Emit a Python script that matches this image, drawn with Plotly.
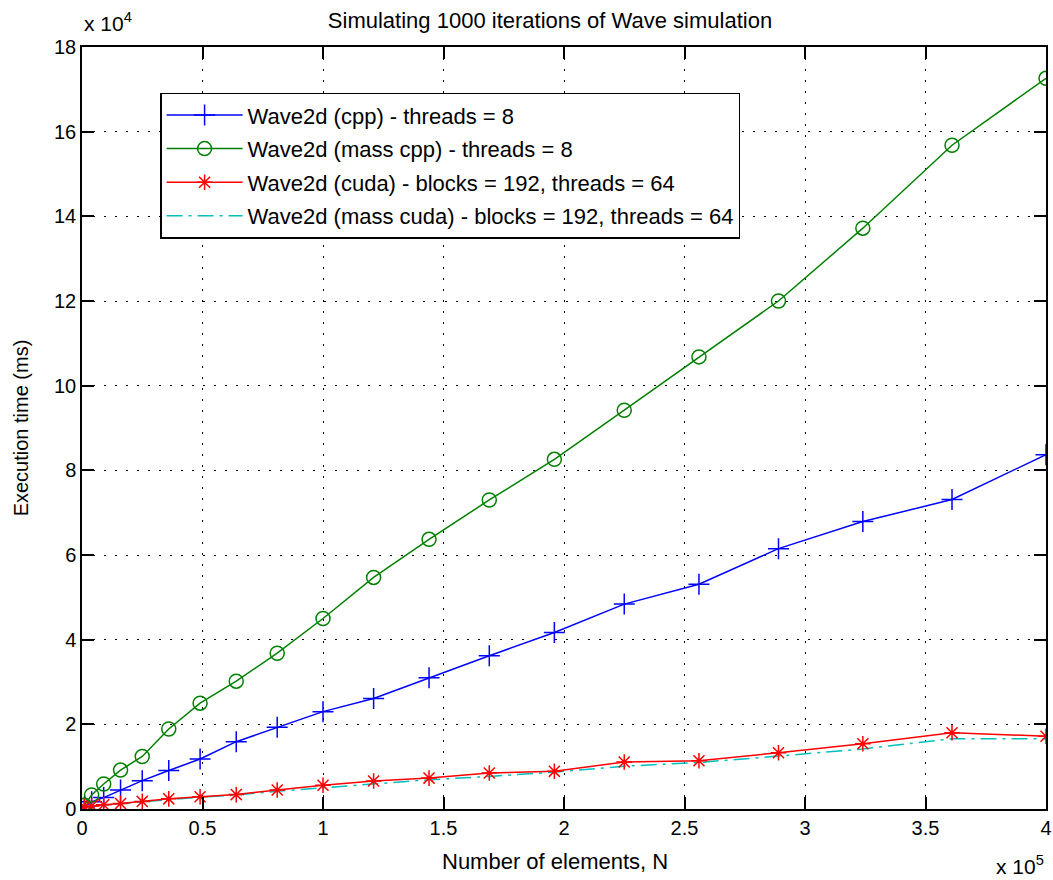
import plotly.graph_objects as go

# Number of elements (x) and execution times (ms)
n_elements = [1000, 4000, 9000, 16000, 25000, 36000, 49000, 64000, 81000, 100000,
              121000, 144000, 169000, 196000, 225000, 256000, 289000, 324000, 361000, 400000]

cpp = [500, 1700, 2700, 4500, 6700, 9100, 11800, 15900, 19300, 23000,
       26100, 31000, 36200, 41700, 48400, 53100, 61500, 67900, 73100, 83700]

mass_cpp = [900, 3300, 5900, 9200, 12400, 18900, 25000, 30200, 36800, 45000,
            54700, 63700, 73000, 82600, 94200, 106800, 120000, 137200, 156800, 172600]

cuda = [500, 700, 1000, 1300, 1800, 2400, 2900, 3400, 4500, 5600,
        6600, 7300, 8500, 8900, 11100, 11400, 13300, 15400, 18000, 17200]

mass_cuda = [300, 600, 900, 1200, 1700, 2200, 2800, 3300, 4200, 5000,
             5800, 6900, 7700, 8700, 10100, 11000, 12500, 14200, 16600, 16600]

x_tickvals = [0, 50000, 100000, 150000, 200000, 250000, 300000, 350000, 400000]
x_ticktext = ["0", "0.5", "1", "1.5", "2", "2.5", "3", "3.5", "4"]
y_tickvals = [0, 20000, 40000, 60000, 80000, 100000, 120000, 140000, 160000, 180000]
y_ticktext = ["0", "2", "4", "6", "8", "10", "12", "14", "16", "18"]

names = ["Wave2d (cpp) - threads = 8",
         "Wave2d (mass cpp) - threads = 8",
         "Wave2d (cuda) - blocks = 192, threads = 64",
         "Wave2d (mass cuda) - blocks = 192, threads = 64"]

FONT = "Liberation Sans, Arial, sans-serif"

fig = go.Figure()
fig.add_trace(go.Scatter(x=n_elements, y=cpp, name=names[0], mode="lines+markers",
                         legendgroup="a",
                         line=dict(color="#0000FF", width=1.5),
                         marker=dict(symbol="cross-thin", size=15, color="#0000FF",
                                     line=dict(color="#0000FF", width=1.5))))
fig.add_trace(go.Scatter(x=n_elements, y=mass_cpp, name=names[1], mode="lines+markers",
                         legendgroup="b",
                         line=dict(color="#008000", width=1.5),
                         marker=dict(symbol="circle-open", size=14, color="#008000",
                                     line=dict(color="#008000", width=1.5))))
fig.add_trace(go.Scatter(x=n_elements, y=mass_cuda, name=names[3], mode="lines",
                         legendgroup="d", showlegend=False,
                         line=dict(color="#00BFBF", width=1.5, dash="16px,6px,3px,6px")))
fig.add_trace(go.Scatter(x=n_elements, y=cuda, name=names[2], mode="lines+markers",
                         legendgroup="c",
                         line=dict(color="#FF0000", width=1.5),
                         marker=dict(symbol="asterisk-open", size=13, color="#FF0000",
                                     line=dict(color="#FF0000", width=1.5))))
# legend entry for the cyan series (drawn under the red one above)
fig.add_trace(go.Scatter(x=[None], y=[None], name=names[3], mode="lines",
                         legendgroup="d",
                         line=dict(color="#00BFBF", width=1.5, dash="16px,6px,3px,6px")))

axis_common = dict(showline=True, linecolor="black", linewidth=1.5, mirror="ticks",
                   ticks="inside", ticklen=12, tickwidth=1.5, tickcolor="black",
                   showgrid=True, gridcolor="black", gridwidth=1, griddash="2px,9px",
                   zeroline=False, tickfont=dict(family=FONT, size=20, color="black"))

fig.update_xaxes(range=[0, 400000], tickvals=x_tickvals, ticktext=x_ticktext,
                 **axis_common)
fig.update_yaxes(range=[0, 180000], tickvals=y_tickvals, ticktext=y_ticktext,
                 title=dict(text="Execution time (ms)", standoff=20,
                            font=dict(family=FONT, size=20, color="black")),
                 **axis_common)

fig.update_layout(
    width=1053, height=880,
    margin=dict(l=82, r=7, t=47, b=71, autoexpand=False),
    paper_bgcolor="white", plot_bgcolor="white",
    font=dict(family=FONT, size=20, color="black"),
    title=dict(text="Simulating 1000 iterations of Wave simulation", x=0.4855, xref="paper",
               xanchor="center",
               y=1 - 20 / 880, yref="container", yanchor="middle",
               font=dict(family=FONT, size=22, color="black")),
    legend=dict(x=0.081, y=0.94, xanchor="left", yanchor="top",
                bgcolor="white", bordercolor="black", borderwidth=1.5,
                font=dict(family=FONT, size=22, color="black"),
                itemwidth=76, tracegroupgap=2, traceorder="grouped"),
    showlegend=True,
    annotations=[
        dict(text="Number of elements, N", xref="paper", yref="paper", x=0.4907, y=-0.069,
             xanchor="center", yanchor="middle", showarrow=False,
             font=dict(family=FONT, size=22, color="black")),
        dict(text="x 10<sup>4</sup>", xref="paper", yref="paper", x=0.0, y=1.033,
             xanchor="left", yanchor="middle", showarrow=False,
             font=dict(family=FONT, size=21, color="black")),
        dict(text="x 10<sup>5</sup>", xref="paper", yref="paper", x=1.0, y=-0.074,
             xanchor="right", yanchor="middle", showarrow=False,
             font=dict(family=FONT, size=21, color="black")),
    ],
)

fig.write_html("out.html", config={"displayModeBar": False},
               post_script="document.body.style.margin='0px';"
                           "document.body.style.overflow='hidden';")
